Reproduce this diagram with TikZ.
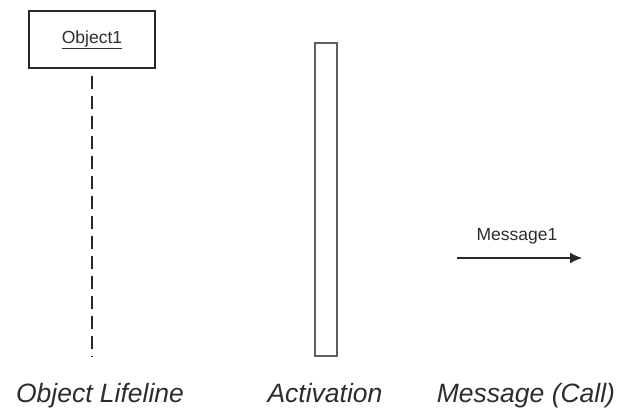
\documentclass[tikz,border=0pt]{standalone}
\usepackage{fontspec}
\setmainfont{Liberation Sans}
\usepackage{tikz}
\usetikzlibrary{arrows.meta,positioning}
\definecolor{LineGray}{RGB}{40,40,40}
\definecolor{ActGray}{RGB}{95,95,95}
\definecolor{TextGray}{RGB}{45,45,45}

\begin{document}
\begin{tikzpicture}[
  x=1pt, y=-1pt,
  objbox/.style={draw=LineGray, line width=1.4pt, minimum width=126pt, minimum height=57pt, inner sep=0pt, font=\fontsize{17.5}{20}\selectfont, text=TextGray},
  actbox/.style={draw=ActGray, line width=1.4pt, minimum width=22pt, minimum height=313pt, inner sep=0pt},
  lifeline/.style={LineGray, line width=1.5pt, dash pattern=on 13pt off 7pt},
  msgarr/.style={-{Latex[length=12pt, width=11pt]}, LineGray, line width=1.3pt},
  smalltext/.style={font=\fontsize{17.5}{20}\selectfont, text=TextGray, inner sep=0pt},
  caption/.style={font=\fontsize{26.5}{30}\selectfont\itshape, text=TextGray, anchor=base, inner sep=0pt}
]
  \useasboundingbox (0,0) rectangle (621,410);

  \node[objbox] (obj) at (92,39.5) {\underline{Object1}};
  \coordinate (lifeEnd) at (92,357);
  \draw[lifeline] ([yshift=-7pt]obj.south) -- (lifeEnd);

  \node[actbox] (act) at (326,199.5) {};

  \coordinate (msgStart) at (457,258);
  \coordinate (msgEnd) at (582,258);
  \draw[msgarr] (msgStart) -- (msgEnd);
  \node[smalltext, anchor=base] (msg) at (517,240) {Message1};

  \node[caption] (capLife) at (100,402) {Object Lifeline};
  \node[caption] (capAct) at (325,402) {Activation};
  \node[caption] (capMsg) at (526,402) {Message (Call)};
\end{tikzpicture}
\end{document}
